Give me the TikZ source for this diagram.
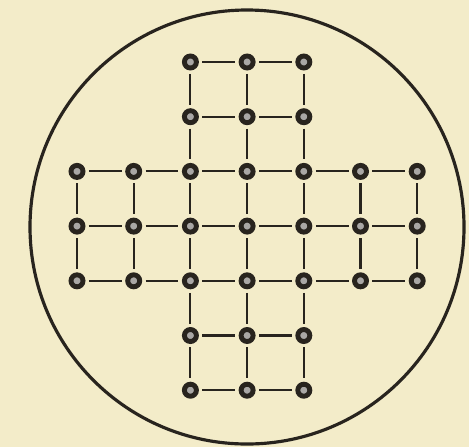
\documentclass[tikz,border=0pt]{standalone}
\usetikzlibrary{positioning}
\definecolor{paper}{RGB}{243,236,201}
\definecolor{ink}{RGB}{40,36,30}
\begin{document}
\begin{tikzpicture}[
  hole/.style={circle, draw=ink, line width=1.4pt, fill=ink!40, inner sep=0pt, minimum size=0.12cm},
  groove/.style={draw=ink, line width=0.6pt, shorten <=1pt, shorten >=1pt},
  rim/.style={draw=ink, line width=0.9pt}
]
  \fill[paper] (0,0) rectangle (4.69,4.47);
  \useasboundingbox (0,0) rectangle (4.69,4.47);

  % board
  \coordinate (mid) at (2.47,2.20);
  \draw[rim] (mid) circle (2.17);

  % holes, column i from the left, row j from the top
  \foreach \i in {0,...,6}
    \foreach \j in {0,...,6} {
      \pgfmathtruncatemacro\ok{or(and(\i>1,\i<5),and(\j>1,\j<5))}
      \ifnum\ok=1
        \node[hole] (h\i\j) at ({0.77+0.567*\i},{3.85-0.547*\j}) {};
      \fi
    }

  % grooves across
  \foreach \j in {2,3,4}
    \foreach \i in {0,...,5} {
      \pgfmathtruncatemacro\k{\i+1}
      \draw[groove] (h\i\j) -- (h\k\j);
    }
  \foreach \j in {0,1,5,6}
    \foreach \i in {2,3} {
      \pgfmathtruncatemacro\k{\i+1}
      \draw[groove] (h\i\j) -- (h\k\j);
    }

  % grooves down
  \foreach \i in {2,3,4}
    \foreach \j in {0,...,5} {
      \pgfmathtruncatemacro\k{\j+1}
      \draw[groove] (h\i\j) -- (h\i\k);
    }
  \foreach \i in {0,1,5,6}
    \foreach \j in {2,3} {
      \pgfmathtruncatemacro\k{\j+1}
      \draw[groove] (h\i\j) -- (h\i\k);
    }
\end{tikzpicture}
\end{document}
